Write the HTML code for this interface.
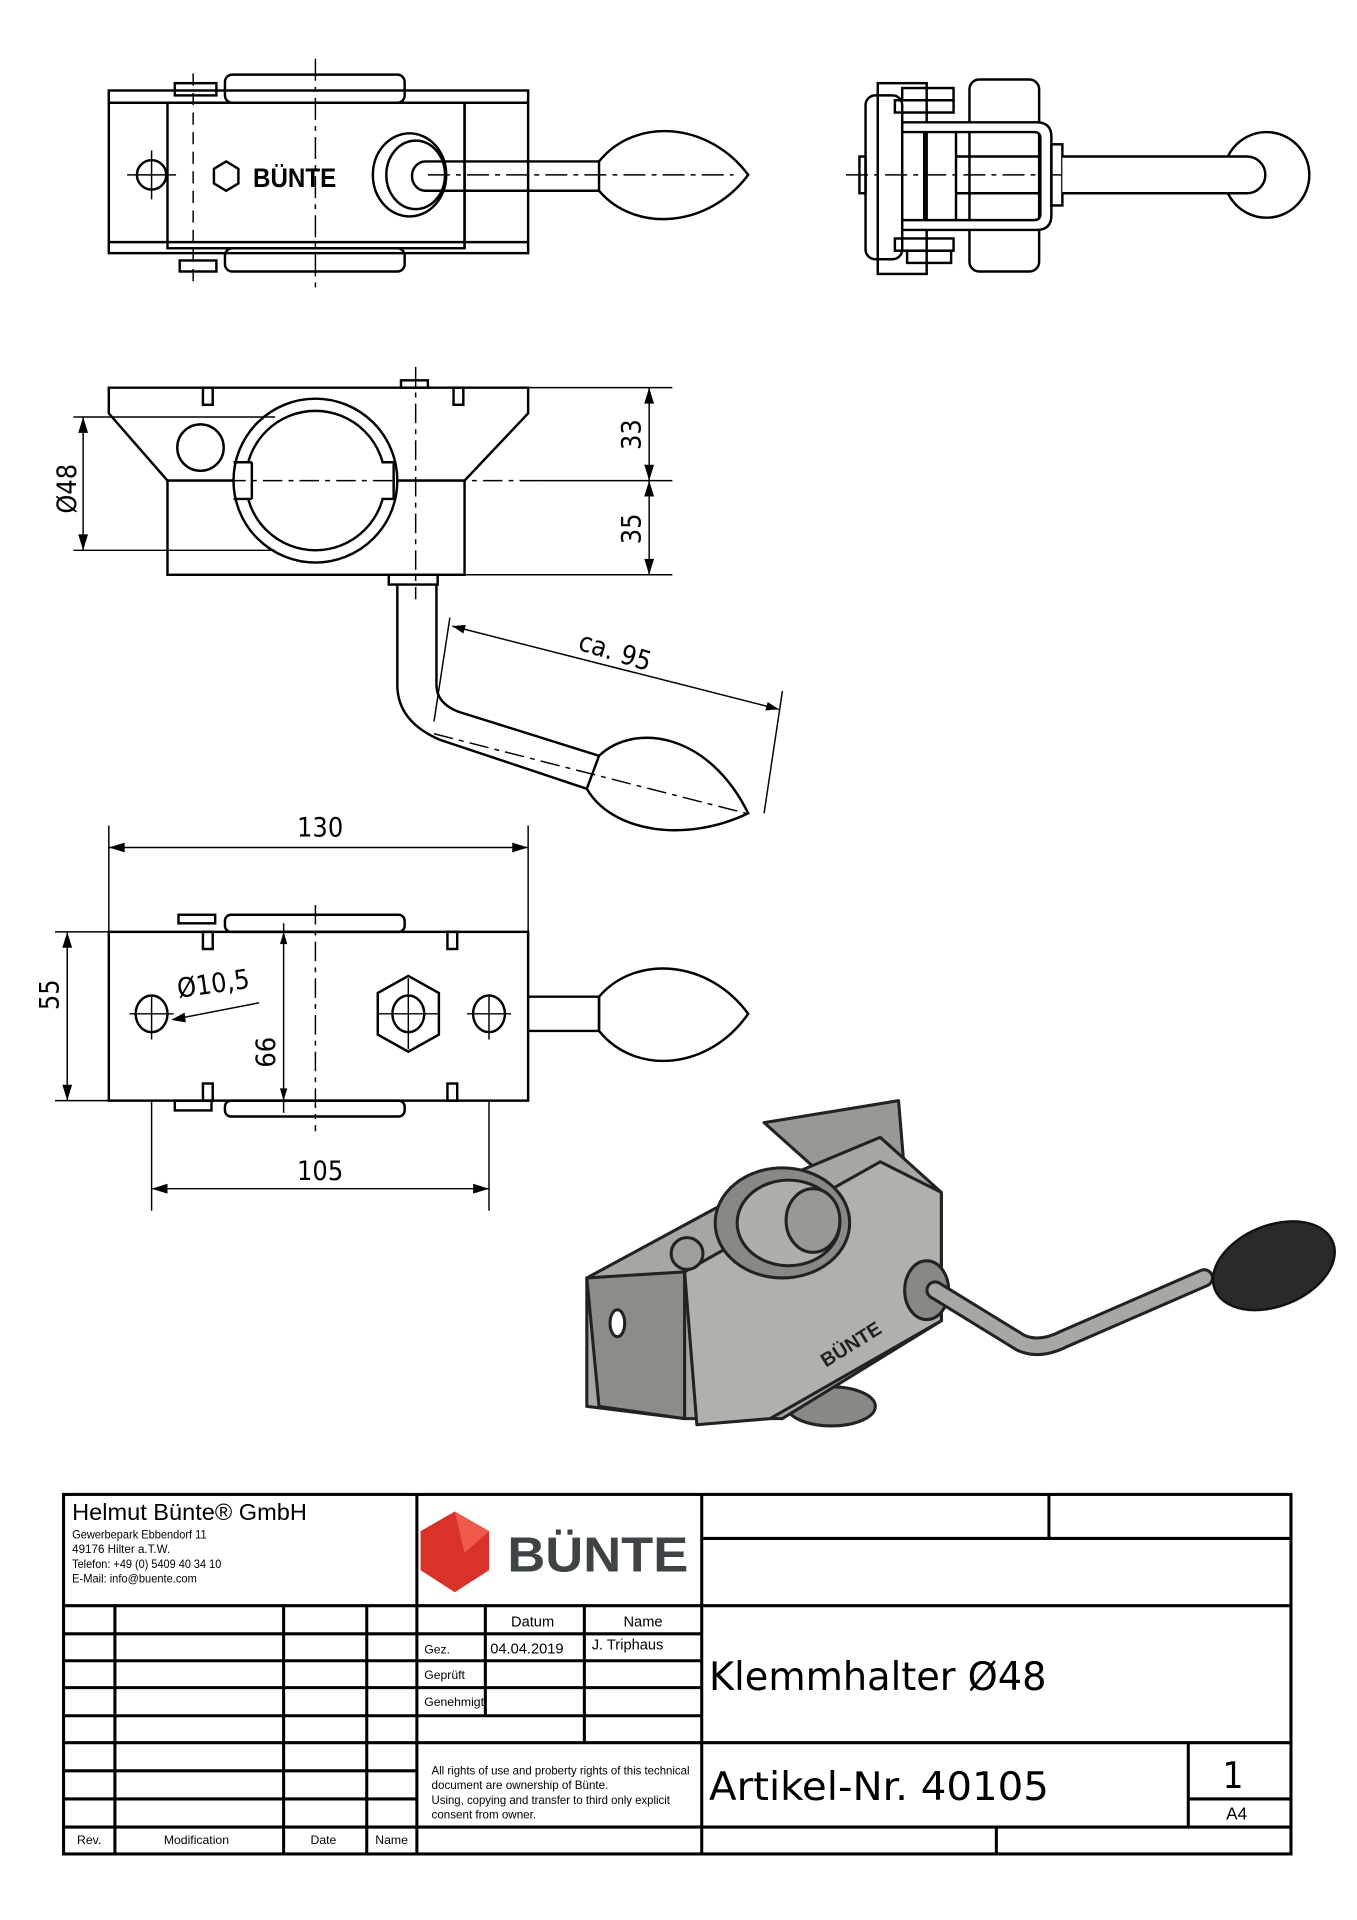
<!DOCTYPE html>
<html><head><meta charset="utf-8"><style>
html,body{margin:0;padding:0;background:#fff;}
svg{display:block;}
text{font-family:"Liberation Sans",sans-serif;}
.n{font-family:"DejaVu Sans Condensed","DejaVu Sans",sans-serif;}
</style></head><body>
<svg width="1357" height="1920" viewBox="0 0 1110 1570" preserveAspectRatio="none" xmlns="http://www.w3.org/2000/svg">
<rect width="1110" height="1570" fill="#fff"/>
<g fill="none" stroke="#000" stroke-width="2">
<!-- TOP LEFT VIEW -->
<rect x="89" y="74" width="343" height="133"/>
<line x1="89" y1="84" x2="432" y2="84"/><line x1="89" y1="198" x2="432" y2="198"/>
<rect x="137" y="84" width="243" height="119"/>
<rect x="184" y="61" width="147" height="23" rx="6"/>
<rect x="184" y="203" width="147" height="19" rx="6"/>
<rect x="143" y="68" width="34" height="10"/>
<rect x="147" y="213" width="30" height="9"/>
<circle cx="124" cy="143" r="12"/>
<polygon points="185,132 195,138 195,150 185,156 175,150 175,138"/>
<ellipse cx="335" cy="143" rx="30" ry="34"/>
<ellipse cx="340" cy="143" rx="24" ry="28"/>
<path d="M490,132 L348,132 A11,12 0 0 0 348,156 L490,156"/>
<path d="M490,132 C520,95 580,100 612,143 C580,186 520,191 490,156 Z"/>
<line x1="380" y1="84" x2="380" y2="203"/>
</g>
<g stroke="#000" stroke-width="1.2" stroke-dasharray="18,5,4,5" fill="none">
<line x1="258" y1="48" x2="258" y2="236"/>
<line x1="158" y1="60" x2="158" y2="230" stroke-dasharray="10,6"/>
<line x1="350" y1="143" x2="600" y2="143"/>
<line x1="692" y1="143" x2="980" y2="143"/>
</g>
<g stroke="#000" stroke-width="1.2"><line x1="104" y1="143" x2="144" y2="143"/><line x1="124" y1="123" x2="124" y2="163"/></g>
<text x="207" y="153" font-size="22" font-weight="bold" textLength="68" lengthAdjust="spacingAndGlyphs">BÜNTE</text>
<!-- TOP RIGHT VIEW -->
<g fill="none" stroke="#000" stroke-width="2">
<rect x="718" y="68" width="40" height="156"/>
<rect x="708" y="78" width="30" height="134" rx="8"/>
<rect x="732" y="82" width="48" height="10"/><rect x="738" y="72" width="42" height="10"/>
<rect x="732" y="195" width="48" height="10"/><rect x="742" y="205" width="36" height="10"/>
<rect x="793" y="65" width="57" height="157" rx="8"/>
<path d="M738,100 L848,100 Q860,100 860,112 L860,176 Q860,188 848,188 L738,188 L738,180 L846,180 Q851,180 851,175 L851,113 Q851,108 846,108 L738,108 Z" fill="#fff"/>
<line x1="756" y1="108" x2="756" y2="180"/><line x1="782" y1="108" x2="782" y2="180"/>
<line x1="782" y1="128" x2="851" y2="128"/><line x1="782" y1="158" x2="851" y2="158"/>
<rect x="860" y="118" width="9" height="50"/>
<circle cx="1036" cy="143" r="35"/>
<path d="M869,128 L1020,128 A15,15 0 0 1 1020,158 L869,158" fill="#fff"/>
<rect x="703" y="128" width="5" height="30"/>
</g>
<!-- MIDDLE VIEW -->
<g fill="none" stroke="#000" stroke-width="2">
<path d="M89,317 L432,317 L432,338 L380,393 L137,393 L89,338 Z"/>
<rect x="137" y="393" width="243" height="77" fill="#fff"/>
<circle cx="258" cy="393" r="67" fill="#fff"/>
<circle cx="258" cy="393" r="57"/>
<rect x="196" y="378" width="10" height="30" fill="#fff" stroke="none"/>
<rect x="312" y="378" width="10" height="30" fill="#fff" stroke="none"/>
<path d="M191,378 L206,378 M191,408 L206,408 M312,378 L324,378 M312,408 L324,408 M322,378 L322,408 M206,378 L206,408"/>
<circle cx="164" cy="366" r="19"/>
<rect x="166" y="317" width="8" height="14"/><rect x="371" y="317" width="8" height="14"/>
<rect x="328" y="311" width="22" height="6"/>
<rect x="318" y="470" width="40" height="8"/>
<path d="M325,478 L325,560 Q325,590 360,605 L480,645 M357,478 L357,560 Q357,575 375,582 L490,618"/>
<path d="M490,618 C520,590 580,600 612,665 C560,690 500,680 480,645 Z"/>
</g>
<g stroke="#000" stroke-width="1.2" stroke-dasharray="16,5,4,5" fill="none">
<line x1="340" y1="300" x2="340" y2="490"/>
<line x1="155" y1="393" x2="440" y2="393"/>
<line x1="355" y1="600" x2="610" y2="665"/>
</g>
<g stroke="#000" stroke-width="1.2" fill="none">
<line x1="380" y1="317" x2="550" y2="317"/><line x1="440" y1="393" x2="550" y2="393"/><line x1="380" y1="470" x2="550" y2="470"/>
<line x1="531" y1="317" x2="531" y2="470"/>
<line x1="60" y1="341" x2="225" y2="341"/><line x1="60" y1="450" x2="225" y2="450"/>
<line x1="68" y1="341" x2="68" y2="450"/>
<line x1="368" y1="505" x2="355" y2="590"/><line x1="640" y1="565" x2="625" y2="665"/>
<line x1="370" y1="512" x2="637" y2="580"/>
<line x1="89" y1="675" x2="89" y2="762"/><line x1="432" y1="675" x2="432" y2="762"/>
<line x1="89" y1="693" x2="432" y2="693"/>
<line x1="45" y1="762" x2="89" y2="762"/><line x1="45" y1="900" x2="89" y2="900"/>
<line x1="55" y1="762" x2="55" y2="900"/>
<line x1="124" y1="900" x2="124" y2="990"/><line x1="400" y1="900" x2="400" y2="990"/>
<line x1="124" y1="972" x2="400" y2="972"/>
<line x1="232" y1="755" x2="232" y2="910"/>
<line x1="145" y1="833" x2="212" y2="820"/>
</g>
<g fill="#000">
<polygon points="531,317 527,330 535,330"/><polygon points="531,393 527,380 535,380"/><polygon points="531,393 527,406 535,406"/><polygon points="531,470 527,457 535,457"/>
<polygon points="68,341 64,354 72,354"/><polygon points="68,450 64,437 72,437"/>
<polygon points="370,512 381,511 379,518"/><polygon points="637,580 626,581 628,574"/>
<polygon points="89,693 102,689 102,697"/><polygon points="432,693 419,689 419,697"/>
<polygon points="55,762 51,775 59,775"/><polygon points="55,900 51,887 59,887"/>
<polygon points="124,972 137,968 137,976"/><polygon points="400,972 387,968 387,976"/>
<polygon points="232,762 229,772 235,772"/><polygon points="232,900 229,890 235,890"/>
<polygon points="140,834 151,828 152,836"/>
</g>
<text class="n" font-size="22" transform="translate(524,368) rotate(-90)">33</text>
<text class="n" font-size="22" transform="translate(524,445) rotate(-90)">35</text>
<text class="n" font-size="22" transform="translate(62,420) rotate(-90)">Ø48</text>
<text class="n" font-size="22" transform="translate(472,531) rotate(17)">ca. 95</text>
<text class="n" font-size="22" x="243" y="684">130</text>
<text class="n" font-size="22" transform="translate(48,826) rotate(-90)">55</text>
<text class="n" font-size="22" x="243" y="965">105</text>
<text class="n" font-size="22" transform="translate(225,873) rotate(-90)">66</text>
<text class="n" font-size="22" transform="translate(146,816) rotate(-8)">Ø10,5</text>
<!-- BOTTOM VIEW -->
<g fill="none" stroke="#000" stroke-width="2">
<rect x="89" y="762" width="343" height="138"/>
<rect x="184" y="748" width="147" height="14" rx="5"/>
<rect x="184" y="900" width="147" height="13" rx="5"/>
<rect x="146" y="748" width="30" height="7"/><rect x="143" y="900" width="30" height="8"/>
<rect x="166" y="762" width="8" height="14"/><rect x="366" y="762" width="8" height="14"/>
<rect x="166" y="886" width="8" height="14"/><rect x="366" y="886" width="8" height="14"/>
<ellipse cx="124" cy="829" rx="13" ry="15"/><ellipse cx="400" cy="829" rx="13" ry="15"/>
<polygon points="322,798 347,812 347,846 322,860 297,846 297,812" transform="translate(12,0)"/>
<ellipse cx="334" cy="829" rx="13" ry="15"/>
<path d="M432,815 L490,815 L490,843 L432,843"/>
<path d="M490,815 C520,780 580,785 612,829 C580,875 520,880 490,843 Z"/>
</g>
<g stroke="#000" stroke-width="1.2" fill="none">
<line x1="258" y1="740" x2="258" y2="925" stroke-dasharray="16,5,4,5"/>
<line x1="106" y1="829" x2="142" y2="829"/><line x1="124" y1="815" x2="124" y2="850"/>
<line x1="382" y1="829" x2="418" y2="829"/><line x1="400" y1="815" x2="400" y2="850"/>
<line x1="310" y1="829" x2="358" y2="829"/><line x1="334" y1="800" x2="334" y2="858"/>
</g>
<!-- 3D -->
<g stroke="#222" stroke-width="2.5" stroke-linejoin="round">
<ellipse cx="680" cy="1150" rx="36" ry="16" fill="#8a8884"/>
<polygon points="625,918 735,900 740,960 700,985" fill="#9a9894"/>
<polygon points="480,1045 600,980 720,930 770,975 770,1080 640,1160 560,1160 480,1150" fill="#a8a6a2"/>
<polygon points="480,1045 560,1040 560,1160 490,1150" fill="#8e8c88"/>
<polygon points="560,1040 720,950 770,975 770,1080 630,1160 570,1165" fill="#b2b0ac"/>
<ellipse cx="640" cy="1000" rx="55" ry="45" fill="#8a8884"/>
<ellipse cx="645" cy="1000" rx="42" ry="35" fill="#b0aeaa"/>
<ellipse cx="665" cy="998" rx="22" ry="26" fill="#9a9894"/>
<circle cx="562" cy="1025" r="13" fill="#a09e9a"/>
<ellipse cx="505" cy="1082" rx="6" ry="11" fill="#fff"/>
<ellipse cx="758" cy="1055" rx="18" ry="24" fill="#8a8884"/>
</g>
<path d="M765,1055 L835,1098 Q850,1105 870,1095 L985,1045" fill="none" stroke="#222" stroke-width="16" stroke-linecap="round"/>
<path d="M765,1055 L835,1098 Q850,1105 870,1095 L985,1045" fill="none" stroke="#a9a7a3" stroke-width="11" stroke-linecap="round"/>
<ellipse cx="1042" cy="1035" rx="52" ry="33" transform="rotate(-22 1042 1035)" fill="#2a2a2a" stroke="#111" stroke-width="2"/>
<text x="668" y="1108" font-size="16" font-weight="bold" fill="#222" transform="rotate(-32 690 1100)">BÜNTE</text>
<!-- TITLE BLOCK -->
<g stroke="#000" stroke-width="2.5" fill="none">
<rect x="52" y="1222" width="1004" height="294"/>
<line x1="52" y1="1313" x2="1056" y2="1313"/>
<line x1="341" y1="1222" x2="341" y2="1516"/>
<line x1="574" y1="1222" x2="574" y2="1516"/>
<line x1="574" y1="1258" x2="1056" y2="1258"/>
<line x1="858" y1="1222" x2="858" y2="1258"/>
<line x1="94" y1="1313" x2="94" y2="1516"/><line x1="232" y1="1313" x2="232" y2="1516"/><line x1="300" y1="1313" x2="300" y2="1516"/>
<line x1="52" y1="1336" x2="574" y2="1336"/><line x1="52" y1="1358" x2="574" y2="1358"/><line x1="52" y1="1380" x2="574" y2="1380"/><line x1="52" y1="1403" x2="574" y2="1403"/>
<line x1="52" y1="1425" x2="1056" y2="1425"/>
<line x1="52" y1="1448" x2="341" y2="1448"/><line x1="52" y1="1471" x2="341" y2="1471"/>
<line x1="52" y1="1494" x2="1056" y2="1494"/>
<line x1="397" y1="1313" x2="397" y2="1403"/><line x1="478" y1="1313" x2="478" y2="1425"/>
<line x1="972" y1="1425" x2="972" y2="1494"/><line x1="972" y1="1471" x2="1056" y2="1471"/>
<line x1="815" y1="1494" x2="815" y2="1516"/>
</g>
<text x="59" y="1243" font-size="19" textLength="192" lengthAdjust="spacingAndGlyphs">Helmut Bünte® GmbH</text>
<text x="59" y="1258" font-size="9.5" textLength="110" lengthAdjust="spacingAndGlyphs">Gewerbepark Ebbendorf 11</text>
<text x="59" y="1270" font-size="9.5">49176 Hilter a.T.W.</text>
<text x="59" y="1282" font-size="9.5" textLength="122" lengthAdjust="spacingAndGlyphs">Telefon: +49 (0) 5409 40 34 10</text>
<text x="59" y="1294" font-size="9.5" textLength="102" lengthAdjust="spacingAndGlyphs">E-Mail: info@buente.com</text>
<polygon points="372,1236 400,1252 400,1284 372,1302 344,1284 344,1252" fill="#d9322a"/>
<polygon points="372,1236 400,1252 380,1270" fill="#ef5a4a"/>
<text x="415" y="1285" font-size="40" font-weight="bold" fill="#3e4446" textLength="148" lengthAdjust="spacingAndGlyphs">BÜNTE</text>
<g class="n" font-size="12">
<text x="418" y="1330">Datum</text><text x="510" y="1330">Name</text>
<text x="347" y="1352" font-size="10">Gez.</text><text x="401" y="1352">04.04.2019</text><text x="484" y="1349">J. Triphaus</text>
<text x="347" y="1373" font-size="10">Geprüft</text><text x="347" y="1395" font-size="10">Genehmigt</text>
<text x="63" y="1508" font-size="10">Rev.</text><text x="134" y="1508" font-size="10">Modification</text><text x="254" y="1508" font-size="10">Date</text><text x="307" y="1508" font-size="10">Name</text>
<text x="1003" y="1488" font-size="14">A4</text>
</g>
<g font-size="9.5">
<text x="353" y="1451" textLength="211" lengthAdjust="spacingAndGlyphs">All rights of use and proberty rights of this technical</text>
<text x="353" y="1463">document are ownership of Bünte.</text>
<text x="353" y="1475" textLength="195" lengthAdjust="spacingAndGlyphs">Using, copying and transfer to third only explicit</text>
<text x="353" y="1487">consent from owner.</text>
</g>
<text class="n" x="580" y="1382" font-size="32" textLength="276" lengthAdjust="spacingAndGlyphs">Klemmhalter Ø48</text>
<text class="n" x="580" y="1472" font-size="32" textLength="278" lengthAdjust="spacingAndGlyphs">Artikel-Nr. 40105</text>
<text class="n" x="1000" y="1462" font-size="30">1</text>
</svg>
</body></html>
